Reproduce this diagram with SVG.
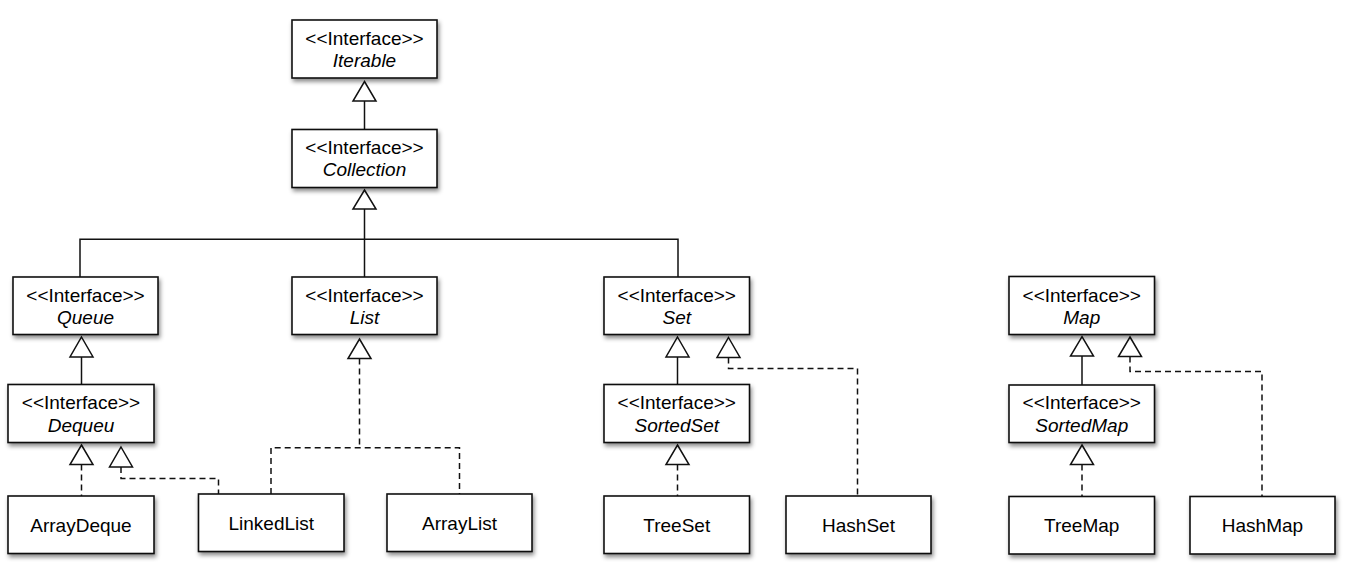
<svg xmlns="http://www.w3.org/2000/svg" width="1348" height="573" viewBox="0 0 1348 573">
<style>
.box{fill:#fff;stroke:#111;stroke-width:1.6;filter:url(#sh)}
text{font-family:"Liberation Sans",Arial,Helvetica,sans-serif;font-size:19px;fill:#000;text-anchor:middle}
.it{font-style:italic}
.ln{fill:none;stroke:#111;stroke-width:1.5}
.dl{fill:none;stroke:#111;stroke-width:1.5;stroke-dasharray:6 4}
.tri{fill:#fff;stroke:#111;stroke-width:1.5;stroke-linejoin:miter}
</style>
<defs>
<filter id="sh" x="-10%" y="-10%" width="130%" height="140%">
<feDropShadow dx="1.5" dy="3" stdDeviation="2" flood-color="#000" flood-opacity="0.45"/>
</filter>
</defs>
<rect width="1348" height="573" fill="#fff"/>
<g id="connectors">
<path class="ln" d="M364.5,101 V129.5"/>
<path class="ln" d="M364.5,209 V277 M80,277 V239.3 H678 V277"/>
<path class="ln" d="M81.5,357 V384.5"/>
<path class="dl" d="M81.5,464.5 V496"/>
<path class="dl" d="M121,467 V478.5 H218.5 V494"/>
<path class="dl" d="M359.5,358.5 V447.7 M271,494 V447.7 H459.5 V494"/>
<path class="ln" d="M677.5,357 V384.5"/>
<path class="dl" d="M728.5,357.5 V368.5 H857.5 V496"/>
<path class="dl" d="M677.5,464.5 V496"/>
<path class="ln" d="M1082,356 V385"/>
<path class="dl" d="M1130,356.5 V371.5 H1262 V496.5"/>
<path class="dl" d="M1082,464.5 V496.5"/>
<polygon class="tri" points="364.5,81.5 376,101 353,101"/>
<polygon class="tri" points="364.5,190 376,209 353,209"/>
<polygon class="tri" points="81.5,337 93,357 70,357"/>
<polygon class="tri" points="81.5,445 93,464.5 70,464.5"/>
<polygon class="tri" points="121,447 132.5,467 109.5,467"/>
<polygon class="tri" points="359.5,339 371,358.5 348,358.5"/>
<polygon class="tri" points="677.5,337 689,357 666,357"/>
<polygon class="tri" points="728.5,337.5 740,357.5 717,357.5"/>
<polygon class="tri" points="677.5,445 689,464.5 666,464.5"/>
<polygon class="tri" points="1082,336.7 1093.5,356 1070.5,356"/>
<polygon class="tri" points="1130,337 1141.5,356.5 1118.5,356.5"/>
<polygon class="tri" points="1082,445 1093.5,464.5 1070.5,464.5"/>
</g>
<g id="iterable"><rect class="box" x="292" y="20" width="145" height="58"/><text x="364.5" y="44.5">&lt;&lt;Interface&gt;&gt;</text><text class="it" x="364.5" y="66.5">Iterable</text></g>
<g id="collection"><rect class="box" x="292" y="129.5" width="145" height="58"/><text x="364.5" y="154">&lt;&lt;Interface&gt;&gt;</text><text class="it" x="364.5" y="176">Collection</text></g>
<g id="queue"><rect class="box" x="13" y="277" width="145" height="57.5"/><text x="85.5" y="301.5">&lt;&lt;Interface&gt;&gt;</text><text class="it" x="85.5" y="323.5">Queue</text></g>
<g id="list"><rect class="box" x="292" y="277" width="145" height="57.5"/><text x="364.5" y="301.5">&lt;&lt;Interface&gt;&gt;</text><text class="it" x="364.5" y="323.5">List</text></g>
<g id="set"><rect class="box" x="604" y="277" width="145.5" height="57.5"/><text x="676.75" y="301.5">&lt;&lt;Interface&gt;&gt;</text><text class="it" x="676.75" y="323.5">Set</text></g>
<g id="map"><rect class="box" x="1009" y="276.5" width="145.5" height="58"/><text x="1081.75" y="301.5">&lt;&lt;Interface&gt;&gt;</text><text class="it" x="1081.75" y="323.5">Map</text></g>
<g id="dequeu"><rect class="box" x="8" y="384.5" width="146" height="58"/><text x="81" y="409">&lt;&lt;Interface&gt;&gt;</text><text class="it" x="81" y="431.5">Dequeu</text></g>
<g id="sortedset"><rect class="box" x="604" y="384.5" width="145.5" height="58"/><text x="676.75" y="409">&lt;&lt;Interface&gt;&gt;</text><text class="it" x="676.75" y="431.5">SortedSet</text></g>
<g id="sortedmap"><rect class="box" x="1009" y="385" width="145.5" height="57.5"/><text x="1081.75" y="409">&lt;&lt;Interface&gt;&gt;</text><text class="it" x="1081.75" y="431.5">SortedMap</text></g>
<g id="arraydeque"><rect class="box" x="8" y="496" width="146" height="57.5"/><text x="81" y="531.5">ArrayDeque</text></g>
<g id="linkedlist"><rect class="box" x="198.5" y="494" width="145.5" height="57.5"/><text x="271.25" y="529.5">LinkedList</text></g>
<g id="arraylist"><rect class="box" x="387" y="494" width="145" height="57.5"/><text x="459.5" y="529.5">ArrayList</text></g>
<g id="treeset"><rect class="box" x="604" y="496" width="145.5" height="57.5"/><text x="676.75" y="531.5">TreeSet</text></g>
<g id="hashset"><rect class="box" x="786" y="496" width="145" height="57.5"/><text x="858.5" y="531.5">HashSet</text></g>
<g id="treemap"><rect class="box" x="1009" y="496.5" width="145.5" height="57.5"/><text x="1081.75" y="532">TreeMap</text></g>
<g id="hashmap"><rect class="box" x="1190" y="496.5" width="145" height="57.5"/><text x="1262.5" y="532">HashMap</text></g>
</svg>
